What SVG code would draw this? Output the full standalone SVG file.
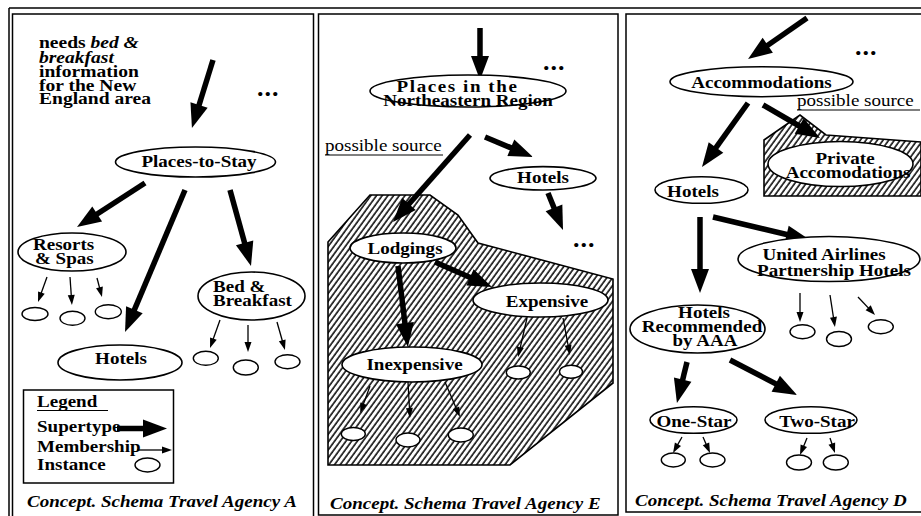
<svg xmlns="http://www.w3.org/2000/svg" width="921" height="516" viewBox="0 0 921 516">
<style>
.fr{fill:none;stroke:#000;stroke-width:1.5}
.e{fill:#fff;stroke:#000;stroke-width:1.6}
.i{fill:#fff;stroke:#000;stroke-width:1.4}
.ar{stroke:#000;stroke-width:5.5;fill:none;marker-end:url(#ah)}
.mr{stroke:#000;stroke-width:1.3;fill:none;marker-end:url(#mh)}
.hz{fill:url(#hatch);stroke:#000;stroke-width:1.6}
text{font-family:"Liberation Serif","Times New Roman",serif;font-size:17px;fill:#000}
.b{font-weight:bold}
.m{text-anchor:middle}
.cap{font-weight:bold;font-style:italic}
.dots{font-weight:bold;font-size:26px;letter-spacing:1px}
.ul{stroke:#000;stroke-width:1.2}
</style>
<defs>
<marker id="ah" markerUnits="userSpaceOnUse" markerWidth="24" markerHeight="18" refX="12" refY="9" orient="auto" overflow="visible"><path d="M0,0 L24,9 L0,18 z" fill="#000"/></marker>
<marker id="mh" markerUnits="userSpaceOnUse" markerWidth="10" markerHeight="7" refX="5" refY="3.5" orient="auto" overflow="visible"><path d="M0,0 L10,3.5 L0,7 z" fill="#000"/></marker>
<pattern id="hatch" patternUnits="userSpaceOnUse" width="4.6" height="10" patternTransform="rotate(36)"><rect width="4.6" height="10" fill="#fff"/><line x1="1" y1="0" x2="1" y2="10" stroke="#000" stroke-width="1.5"/></pattern>
</defs>

<g id="frames">
<line class="fr" x1="9" y1="8" x2="921" y2="8"/>
<line class="fr" x1="9" y1="8" x2="9" y2="516"/>
<rect class="fr" x="12.5" y="14" width="301" height="520"/>
<rect class="fr" x="318.5" y="14" width="299.5" height="501"/>
<rect class="fr" x="626" y="14" width="300" height="498"/>
</g>

<g id="sources">
<polygon class="hz" points="328,242 370,195 430,195 458,215 478,243 613,279 613,383 510,465 328,465"/>
<polygon class="hz" points="764,140 800,115 826,135 921,142 921,196 764,196"/>
</g>

<g id="connectors">
<line class="ar" x1="213" y1="60" x2="195.5" y2="116.5"/>
<line class="ar" x1="145" y1="183" x2="87.1" y2="220.5"/>
<line class="ar" x1="185" y1="190" x2="129.7" y2="320.9"/>
<line class="ar" x1="230" y1="190" x2="247.8" y2="254.4"/>
<line class="ar" x1="117" y1="428.5" x2="155" y2="428.5"/>
<line class="mr" x1="47" y1="277" x2="39.7" y2="297.3"/>
<line class="mr" x1="70" y1="277" x2="71.6" y2="300"/>
<line class="mr" x1="97" y1="278" x2="100.7" y2="292.2"/>
<line class="mr" x1="220" y1="320" x2="211.7" y2="343.3"/>
<line class="mr" x1="248" y1="325" x2="248" y2="347"/>
<line class="mr" x1="277" y1="322" x2="283.6" y2="345.2"/>
<line class="mr" x1="137" y1="450" x2="167" y2="450"/>

<line class="ar" x1="480" y1="28" x2="480" y2="68"/>
<line class="ar" x1="470" y1="135" x2="401" y2="213"/>
<line class="ar" x1="485" y1="137" x2="521.9" y2="152.4"/>
<line class="ar" x1="548" y1="193" x2="558.5" y2="218.9"/>
<line class="ar" x1="398" y1="266" x2="406.4" y2="335.1"/>
<line class="ar" x1="435" y1="262" x2="481" y2="282.2"/>
<line class="mr" x1="527" y1="318" x2="519.2" y2="352.1"/>
<line class="mr" x1="563" y1="318" x2="569" y2="350.1"/>
<line class="mr" x1="370" y1="386" x2="361.9" y2="408.4"/>
<line class="mr" x1="408" y1="382" x2="409.7" y2="413"/>
<line class="mr" x1="445" y1="382" x2="458" y2="412.4"/>

<line class="ar" x1="807" y1="18" x2="757.9" y2="52.1"/>
<line class="ar" x1="748" y1="103" x2="709" y2="157.3"/>
<line class="ar" x1="763" y1="105" x2="809.6" y2="132"/>
<line class="ar" x1="713" y1="217" x2="798.3" y2="237.2"/>
<line class="ar" x1="700" y1="217" x2="700" y2="281"/>
<line class="ar" x1="687" y1="362" x2="679.8" y2="391.3"/>
<line class="ar" x1="730" y1="360" x2="786.4" y2="389.4"/>
<line class="mr" x1="800" y1="293" x2="800" y2="317"/>
<line class="mr" x1="830" y1="295" x2="834.2" y2="322.1"/>
<line class="mr" x1="858" y1="297" x2="871.6" y2="311.4"/>
<line class="mr" x1="682" y1="437" x2="675.5" y2="448.6"/>
<line class="mr" x1="703" y1="437" x2="708" y2="448.4"/>
<line class="mr" x1="807" y1="438" x2="801.9" y2="450.4"/>
<line class="mr" x1="830" y1="438" x2="833.4" y2="448.3"/>
</g>

<g id="panelA">
<text id="note-a" class="b" transform="translate(39 48) scale(1.15 1)"><tspan x="0" y="0">needs <tspan font-style="italic">bed &amp;</tspan></tspan><tspan x="0" y="14.5" font-style="italic">breakfast</tspan><tspan x="0" y="28.7">information</tspan><tspan x="0" y="42.7">for the New</tspan><tspan x="0" y="56.5">England area</tspan></text>
<text class="dots" x="257" y="96">...</text>
<g id="places-to-stay"><ellipse class="e" cx="195.5" cy="162" rx="80" ry="15"/><text class="b m" transform="translate(199 167) scale(1.12 1)">Places-to-Stay</text></g>
<g id="resorts"><ellipse class="e" cx="72" cy="252" rx="54" ry="19"/><text class="b" transform="translate(33 250) scale(1.12 1)"><tspan x="0" y="0">Resorts</tspan><tspan x="1.8" y="14">&amp; Spas</tspan></text></g>
<g id="hotels-a"><ellipse class="e" cx="120" cy="362.5" rx="62" ry="17.5"/><text class="b m" transform="translate(121 363.5) scale(1.12 1)">Hotels</text></g>
<g id="bnb"><ellipse class="e" cx="251.5" cy="296" rx="53.5" ry="24"/><text class="b" transform="translate(213 292) scale(1.12 1)"><tspan x="0" y="0">Bed &amp;</tspan><tspan x="0" y="14">Breakfast</tspan></text></g>
<g id="inst-a">
<ellipse class="i" cx="35" cy="314" rx="13" ry="6.5"/>
<ellipse class="i" cx="72.5" cy="318.3" rx="12.5" ry="7"/>
<ellipse class="i" cx="108.3" cy="311.7" rx="13" ry="7"/>
<ellipse class="i" cx="205.8" cy="358.3" rx="12.5" ry="7"/>
<ellipse class="i" cx="245.8" cy="367.5" rx="12.5" ry="7.5"/>
<ellipse class="i" cx="287.5" cy="361.7" rx="12.5" ry="7"/>
</g>
<g id="legend">
<rect class="fr" x="23.5" y="390" width="150" height="93"/>
<text class="b" transform="translate(37 406.5) scale(1.12 1)"><tspan x="0" y="0">Legend</tspan><tspan x="0" y="25.5">Supertype</tspan><tspan x="0" y="45.5">Membership</tspan><tspan x="0" y="63.5">Instance</tspan></text>
<line class="ul" x1="37" y1="410.5" x2="108" y2="410.5"/>
<ellipse class="i" cx="147.5" cy="465" rx="12.5" ry="7"/>
</g>
<text class="cap" transform="translate(27 507) scale(1.12 1)">Concept. Schema Travel Agency A</text>
</g>

<g id="panelE">
<text class="dots" x="543" y="70">...</text>
<g id="places-ne"><ellipse class="e" cx="468" cy="91" rx="98" ry="16"/><text class="b m" transform="translate(457.5 91.5) scale(1.12 1)"><tspan x="0" y="0" letter-spacing="1.4">Places in the</tspan><tspan x="9.4" y="14.5">Northeastern Region</tspan></text></g>
<text transform="translate(325 151) scale(1.12 1)">possible source</text>
<line class="ul" x1="325" y1="155" x2="443" y2="155"/>
<g id="hotels-e"><ellipse class="e" cx="543" cy="178.3" rx="53" ry="11.7"/><text class="b m" transform="translate(543 183) scale(1.12 1)">Hotels</text></g>
<text class="dots" x="573" y="247">...</text>
<g id="lodgings"><ellipse class="e" cx="403" cy="248" rx="53" ry="15"/><text class="b m" transform="translate(405 254) scale(1.12 1)">Lodgings</text></g>
<g id="expensive"><ellipse class="e" cx="540.5" cy="300" rx="67.5" ry="17"/><text class="b m" transform="translate(547 306.5) scale(1.12 1)">Expensive</text></g>
<g id="inexpensive"><ellipse class="e" cx="412" cy="364.5" rx="70" ry="17.5"/><text class="b m" transform="translate(414.5 370) scale(1.12 1)">Inexpensive</text></g>
<g id="inst-e">
<ellipse class="i" cx="518.3" cy="372.5" rx="12" ry="6.5"/>
<ellipse class="i" cx="571" cy="371.7" rx="11.5" ry="6.5"/>
<ellipse class="i" cx="353.3" cy="434" rx="12" ry="6.5"/>
<ellipse class="i" cx="408" cy="440" rx="12" ry="7"/>
<ellipse class="i" cx="460.8" cy="435" rx="12.5" ry="7"/>
</g>
<text class="cap" transform="translate(330 509) scale(1.12 1)">Concept. Schema Travel Agency E</text>
</g>

<g id="panelD">
<text class="dots" x="855" y="55">...</text>
<g id="accommodations"><ellipse class="e" cx="761.5" cy="81.7" rx="91.5" ry="15"/><text class="b m" transform="translate(761.5 87.5) scale(1.12 1)">Accommodations</text></g>
<text transform="translate(797 106) scale(1.12 1)">possible source</text>
<line class="ul" x1="797" y1="110" x2="920" y2="110"/>
<g id="private"><ellipse class="e" cx="840.5" cy="164" rx="72.5" ry="22.5"/><text class="b m" transform="translate(845 163.5) scale(1.12 1)"><tspan x="0" y="0">Private</tspan><tspan x="2.7" y="14">Accomodations</tspan></text></g>
<g id="hotels-d"><ellipse class="e" cx="701.5" cy="190" rx="46.5" ry="13.3"/><text class="b m" transform="translate(693 196.5) scale(1.12 1)">Hotels</text></g>
<g id="united"><ellipse class="e" cx="829" cy="259" rx="91" ry="22.5"/><text class="b m" transform="translate(824 260) scale(1.12 1)"><tspan x="0" y="0">United Airlines</tspan><tspan x="8.9" y="16">Partnership Hotels</tspan></text></g>
<g id="aaa"><ellipse class="e" cx="697.5" cy="329" rx="67.5" ry="24"/><text class="b m" transform="translate(704 318) scale(1.12 1)"><tspan x="0" y="0">Hotels</tspan><tspan x="-1.8" y="14">Recommended</tspan><tspan x="0.9" y="28">by AAA</tspan></text></g>
<g id="one-star"><ellipse class="e" cx="693.5" cy="420" rx="43.5" ry="13.3"/><text class="b m" transform="translate(694 427) scale(1.12 1)">One-Star</text></g>
<g id="two-star"><ellipse class="e" cx="811" cy="420" rx="46" ry="13.3"/><text class="b m" transform="translate(817 427) scale(1.12 1)">Two-Star</text></g>
<g id="inst-d">
<ellipse class="i" cx="802.5" cy="331.7" rx="12.5" ry="7"/>
<ellipse class="i" cx="839" cy="339" rx="12.5" ry="7.5"/>
<ellipse class="i" cx="880.8" cy="326.7" rx="12.5" ry="7"/>
<ellipse class="i" cx="673.3" cy="460" rx="12" ry="7"/>
<ellipse class="i" cx="712.5" cy="460" rx="12.5" ry="7"/>
<ellipse class="i" cx="799" cy="462.5" rx="12.5" ry="7.5"/>
<ellipse class="i" cx="835.8" cy="462.5" rx="12.5" ry="7.5"/>
</g>
<text class="cap" transform="translate(635 506) scale(1.12 1)">Concept. Schema Travel Agency D</text>
</g>
</svg>
